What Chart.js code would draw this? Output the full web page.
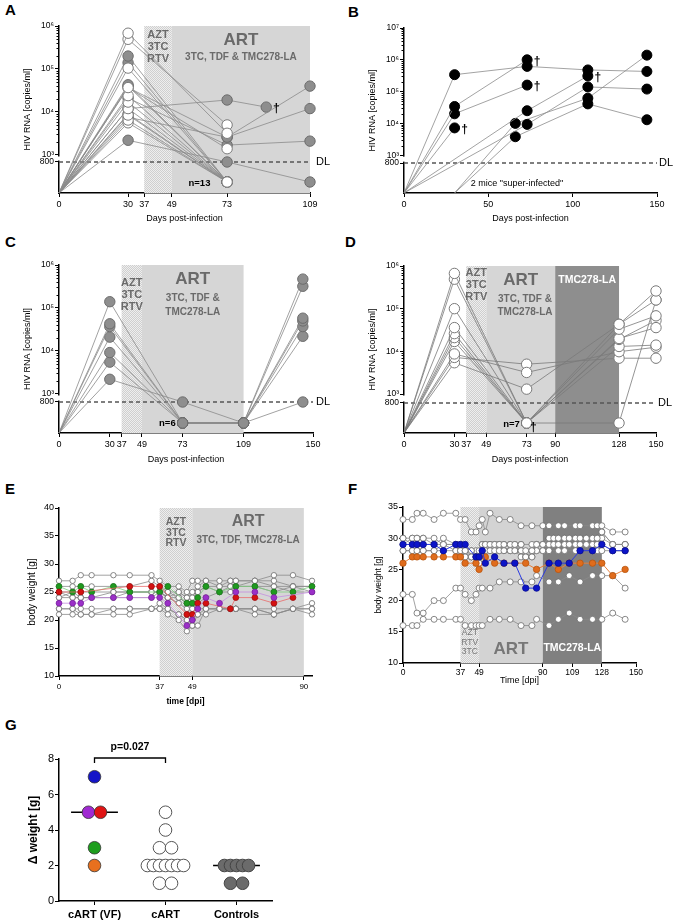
<!DOCTYPE html>
<html>
<head>
<meta charset="utf-8">
<script src="https://cdn.jsdelivr.net/npm/chart.js@4.4.1/dist/chart.umd.min.js"></script>
<style>
  body { margin: 0; background: #fff; }
  #page { position: relative; width: 676px; height: 924px; overflow: hidden; font-family: "Liberation Sans", Arial, sans-serif; }
  canvas { position: absolute; }
  .lbl { position: absolute; font-weight: bold; font-size: 15px; line-height: 18px; }
</style>
</head>
<body>
<div id="page">
  <div class="lbl" style="left:5px;top:1px">A</div>
  <div class="lbl" style="left:348px;top:3px">B</div>
  <div class="lbl" style="left:5px;top:233px">C</div>
  <div class="lbl" style="left:345px;top:233px">D</div>
  <div class="lbl" style="left:5px;top:480px">E</div>
  <div class="lbl" style="left:348px;top:480px">F</div>
  <div class="lbl" style="left:5px;top:716px">G</div>
  <canvas id="cA"></canvas>
  <canvas id="cB"></canvas>
  <canvas id="cC"></canvas>
  <canvas id="cD"></canvas>
  <canvas id="cE"></canvas>
  <canvas id="cF"></canvas>
  <canvas id="cG"></canvas>
</div>
<script>
// ---------- data ----------
// viral load in copies/ml; 'BL' = start of infection, 'UD' = undetectable, 'DL' = at detection limit (800)
const aDays = [0, 30, 73, 90, 109];
const aOpen = [
  ['BL', 6.8e5, 3.2e3, null, null],
  ['BL', 4.9e5, 5.0e3, null, null],
  ['BL', 1.05e5, 'UD', null, null],
  ['BL', 3.7e4, 1.4e3, null, null],
  ['BL', 2.4e4, 'UD', null, null],
  ['BL', 1.7e4, 'UD', null, null],
  ['BL', 1.2e4, 'UD', null, null],
  ['BL', 8.5e3, 'UD', null, null],
  ['BL', 6.5e3, 'UD', null, null],
  ['BL', 5.6e3, 'UD', null, null]
];
const aFilled = [
  ['BL', 2.0e5, 'UD', null, null],
  ['BL', 1.4e5, 'UD', null, null],
  ['BL', 4.3e4, 'UD', null, null],
  ['BL', 4.0e4, 'UD', null, null],
  ['BL', 3.7e4, 2.6e3, null, 4.0e4],
  ['BL', 2.1e4, 1.7e3, null, 2.1e3],
  ['BL', 1.2e4, 1.9e4, 1.3e4, null],
  ['BL', 7.5e3, 2.6e3, null, 1.2e4],
  ['BL', 9.0e3, 'UD', null, null],
  ['BL', 2.2e3, 'DL', null, 'UD']
];
const aDeaths = [[90, 1.3e4]];

const bDays = [0, 30, 66, 73, 109, 144];
const bMice = [
  ['BL', 3.4e5, null, 6.2e5, 4.8e5, 4.3e5],
  ['BL', 3.4e4, null, 1.0e6, null, null],
  ['BL', 2.0e4, null, 1.6e5, null, null],
  ['BL', 7.2e3, null, null, null, null],
  ['BL', null, null, 2.5e4, 3.1e5, null],
  ['BL', null, null, 9.3e3, 1.4e5, 1.2e5],
  [null, 'BL', 1.0e4, null, 6.2e4, 1.4e6],
  [null, 'BL', 3.8e3, null, 4.1e4, 1.3e4]
];
const bDeaths = [[30, 7.2e3], [73, 1.0e6], [73, 1.6e5], [109, 3.1e5]];

const cDays = [0, 30, 73, 109, 144];
const cMice = [
  ['BL', 1.4e5, 'UD', 'UD', 4.7e5],
  ['BL', 4.3e4, 'UD', 'UD', 3.2e5],
  ['BL', 3.7e4, 'UD', 'UD', 5.8e4],
  ['BL', 2.1e4, 'UD', 'UD', 5.0e4],
  ['BL', 9.2e3, 'UD', 'UD', 3.7e4],
  ['BL', 5.5e3, 'UD', 'UD', 2.2e4],
  ['BL', 2.2e3, 'DL', 'UD', 'DL']
];

const dDays = [0, 30, 73, 128, 150];
const dMice = [
  ['BL', 6.7e5, 'UD', 4.3e4, 2.6e5],
  ['BL', 4.9e5, 'UD', 3.3e4, 6.8e4],
  ['BL', 1.0e5, 'UD', 'UD', 1.6e5],
  ['BL', 3.6e4, 'UD', 2.0e4, 3.6e4],
  ['BL', 2.6e4, 'UD', 1.9e4, 5.3e4],
  ['BL', 2.1e4, 'UD', 1.3e4, 1.4e4],
  ['BL', 1.7e4, 'UD', null, null],
  ['BL', 8.7e3, 3.2e3, 9.8e3, 1.25e4],
  ['BL', 7.2e3, 5.0e3, 6.9e3, 6.9e3],
  ['BL', 5.4e3, 1.3e3, 4.3e4, 1.6e5]
];

// body weight [g]
const eDays = [0, 5, 8, 12, 20, 26, 34, 37, 40, 44, 47, 49, 51, 54, 59, 63, 65, 72, 79, 86, 93];
const eWhite = [
  [27, 27, 28, 28, 28, 28, 28, 27, 26, 26, 25, 27, 27, 27, 27, 27, 27, 27, 28, 28, 27],
  [26, 26, 26, 26, 26, 26, 27, 26, 25, 25, 24, 25, 26, 27, 26, 26, 26, 27, 27, 26, 26],
  [25, 25, 25, 25, 25, 25, 25, 25, 24, 24, 23, 22, 25, 26, 25, 26, 26, 26, 26, 25, 25],
  [24, 24, 24, 24, 24, 24, 24, 25, 24, 23, 22, 20, 22, 22, 22, 22, 22, 22, 22, 22, 22],
  [22, 22, 22, 22, 22, 22, 22, 23, 22, 21, 20, 19, 19, 22, 22, 22, 22, 22, 21, 22, 22],
  [21, 21, 21, 21, 21, 21, 22, 22, 21, 20, 18, 19, 21, 22, 22, 22, 22, 21, 21, 22, 21],
  [22, 22, 21, 21, 22, 22, 22, 22, 22, 21, 20, 20, 21, 21, 22, 22, 22, 22, 21, 22, 23],
  [25, 24, 24, 24, 24, 25, 25, 25, 25, 24, 23, 22, 23, 24, 25, 25, 26, 26, 25, 26, 26],
  [24, 25, 24, 24, 25, 25, 25, 25, 24, 25, 24, 24, 25, 26, 26, 27, 27, 27, 26, 26, 25]
];
const eGreen  = [26, 25, 26, 25, 26, 25, null, 25, 26, null, 23, 23, 24, 26, 25, null, 26, 26, 25, 25, 26];
const eRed    = [25, null, 25, null, null, 26, 26, 26, null, null, 21, 21, 23, 23, null, 22, 24, 24, 23, 24, null];
const ePurple = [23, 23, 23, 24, 24, 24, 24, 24, 23, null, 19, 20, 22, 24, 23, null, 25, 25, 24, null, 25];

const fDays = [0, 6, 9, 13, 20, 26, 34, 37, 40, 44, 47, 49, 51, 53, 56, 59, 62, 65, 69, 72,
               76, 79, 83, 86, 90, 94, 97, 100, 104, 107, 111, 114, 118, 122, 125, 128, 135, 143];
const fWhite = [
  [33, 33, 34, 34, 33, 34, 34, 33, 33, 31, 31, 32, 33, 31, 34, null, 33, null, 33, null, 32, null, 32, null, 32, 32, null, 32, 32, null, 32, 32, null, 32, 32, 32, 31, 31],
  [30, 30, 30, 30, 29, 30, 29, 29, 28, 28, 27, 26, 28, 29, 29, 29, 29, 29, 29, 29, 29, null, 29, 29, 29, 30, 30, 30, 30, 30, 30, 30, 30, 30, 30, 31, 29, 29],
  [29, 30, 30, 30, 30, 29, 29, 28, 28, 27, 27, 28, 29, 29, 29, 29, 29, 29, 29, 29, 28, 28, 28, 29, 29, 29, 29, 29, 29, 29, 29, 29, 29, 29, 29, 30, 29, 29],
  [28, 28, 28, 28, 28, 28, 28, 28, 27, 27, 27, 27, 28, 28, 28, 28, 28, 28, 28, 28, 28, 27, 27, 28, 28, 28, null, 28, 28, null, 28, 28, null, 28, 28, 28, 28, 28],
  [28, 28, 28, 28, 28, 29, 28, 28, 28, 28, 26, 26, 28, 28, 28, 28, 28, 28, 28, 28, 29, 27, 27, 28, 28, 29, 29, 29, 29, 29, 29, 29, 29, 29, 29, 29, 28, 28],
  [21, 21, 18, 18, 20, 20, 22, 22, 21, 20, 21, 22, 22, null, 22, null, 23, null, 23, null, 23, null, 23, 24, null, 23, null, 23, null, 24, null, 23, null, 24, null, 24, 24, 22],
  [16, 16, 16, 17, 17, 17, 17, 17, 16, 16, 16, 16, 16, null, 17, null, 17, null, 17, null, 16, null, 16, 17, null, 16, null, 17, null, 18, null, 17, null, 17, null, 17, 18, 17],
  [30, 29, 29, 29, 29, 29, 29, 28, 27, 27, 28, 27, 29, 29, 29, 29, 29, 28, 28, 28, 27, 27, 28, 29, 29, 30, 30, 30, 30, 30, 30, 30, 30, 30, 30, 31, 29, 29]
];
const fOrange = [26, 27, 27, 27, 27, 27, 27, 27, 26, null, 26, 25, null, 27, null, 26, null, 26, null, 26,
                 null, 26, null, 25, null, 26, null, 25, null, 26, null, 26, null, 26, null, 26, 24, 25];
const fBlue   = [29, 29, 29, 29, 29, 28, 29, 29, 29, null, 27, 27, 28, 26, null, 27, null, 26, null, 26,
                 null, 22, null, 22, null, 26, null, 26, null, 26, null, 28, null, 28, null, 29, 28, 28];

// weight change per group
const gGroups = ['cART (VF)', 'cART', 'Controls'];
const gVF = [7, 5, 5, 3, 2];
const gVFColor = ['#1414c8', '#a02ad2', '#e01414', '#1e9e1e', '#e8701e'];
const gCART = [5, 4, 3, 3, 2, 2, 2, 2, 2, 2, 2, 1, 1];
const gCtrl = [2, 2, 2, 2, 2, 1, 1];

// ---------- helpers ----------
const FONT = '"Liberation Sans", Arial, sans-serif';
Chart.defaults.font.family = FONT;
Chart.defaults.color = '#000';
const SUP = {3: '³', 4: '⁴', 5: '⁵', 6: '⁶', 7: '⁷'};

// positions of the broken log axis (in log10 units)
const SA = {min: 2.116, max: 6, dl: 2.837, ud: 2.372};
const SB = {min: 1.81, max: 7, dl: 2.75, ud: 2.3};
const SC = {min: 2.093, max: 6, dl: 2.814, ud: 2.326};
const SD = {min: 2.086, max: 6, dl: 2.79, ud: 2.32};

function toLog(v, s) {
  if (v === 'BL') return s.min;
  if (v === 'UD') return s.ud;
  if (v === 'DL') return s.dl;
  return Math.log10(v);
}
function vlPoints(days, vals, s) {
  const out = [];
  vals.forEach((v, i) => { if (v != null) out.push({x: days[i], y: toLog(v, s), bl: v === 'BL'}); });
  return out;
}
function vlSet(days, vals, s, fill, stroke, r, line) {
  return {
    data: vlPoints(days, vals, s), showLine: true, clip: false,
    borderColor: line || '#8a8a8a', borderWidth: 0.8,
    pointRadius: c => (c.raw && c.raw.bl) ? 0 : r,
    pointBackgroundColor: fill, pointBorderColor: stroke, pointBorderWidth: 1
  };
}
function wPoints(days, vals) {
  const out = [];
  vals.forEach((v, i) => { if (v != null) out.push({x: days[i], y: v}); });
  return out;
}
function wSet(days, vals, fill, stroke, line, r, lw) {
  return {
    data: wPoints(days, vals), showLine: true, clip: false,
    borderColor: line, borderWidth: lw || 0.8,
    pointRadius: r, pointBackgroundColor: fill, pointBorderColor: stroke, pointBorderWidth: 0.8
  };
}
function swarm(vals, center) {
  const cnt = {}, seen = {};
  vals.forEach(v => cnt[v] = (cnt[v] || 0) + 1);
  return vals.map(v => {
    const n = cnt[v];
    const i = seen[v] = (seen[v] === undefined ? 0 : seen[v] + 1);
    const step = n > 3 ? 0.085 : 0.17;
    return {x: center + (i - (n - 1) / 2) * step, y: v};
  });
}
function median(a) {
  const s = [...a].sort((p, q) => p - q), m = Math.floor(s.length / 2);
  return s.length % 2 ? s[m] : (s[m - 1] + s[m]) / 2;
}

let hatchCache = null;
function hatch(ctx) {
  if (hatchCache) return hatchCache;
  const c = document.createElement('canvas');
  c.width = c.height = 2;
  const g = c.getContext('2d');
  g.fillStyle = '#eeeeee'; g.fillRect(0, 0, 2, 2);
  g.fillStyle = '#cfcfcf'; g.fillRect(0, 0, 1, 1); g.fillRect(1, 1, 1, 1);
  hatchCache = ctx.createPattern(c, 'repeat');
  return hatchCache;
}

// bands, labels, detection limit, axis break, daggers
const decor = {
  id: 'decor',
  beforeDatasetsDraw(chart, _a, o) {
    const {ctx, chartArea: a, scales: {x, y}} = chart;
    ctx.save();
    (o.bands || []).forEach(b => {
      const x0 = x.getPixelForValue(b.from), x1 = x.getPixelForValue(b.to);
      ctx.fillStyle = b.hatch ? hatch(ctx) : b.color;
      ctx.fillRect(x0, a.top, x1 - x0, a.bottom - a.top);
    });
    ctx.textAlign = 'center';
    ctx.textBaseline = 'middle';
    (o.texts || []).forEach(t => {
      ctx.font = t.f + ' ' + FONT;
      ctx.fillStyle = t.c || '#6a6a6a';
      ctx.fillText(t.t, x.getPixelForValue(t.x), a.top + t.py);
    });
    if (o.dl) {
      const yy = y.getPixelForValue(o.dl.y);
      ctx.strokeStyle = '#555';
      ctx.lineWidth = 1.5;
      ctx.setLineDash([4, 3]);
      ctx.beginPath(); ctx.moveTo(a.left, yy); ctx.lineTo(a.right + (o.dl.ext || 0), yy); ctx.stroke();
      ctx.setLineDash([]);
      ctx.fillStyle = '#000';
      ctx.font = '11px ' + FONT;
      ctx.textAlign = 'left';
      ctx.fillText('DL', a.right + o.dl.dx, yy);
    }
    ctx.restore();
  },
  afterDatasetsDraw(chart, _a, o) {
    const {ctx, chartArea: a, scales: {x, y}} = chart;
    ctx.save();
    if (o.brk) {
      const s = o.brk;
      // minor log ticks
      ctx.strokeStyle = '#000'; ctx.lineWidth = 1;
      for (let n = 3; n < s.max; n++) {
        for (let k = 2; k <= 9; k++) {
          const yy = Math.round(y.getPixelForValue(n + Math.log10(k))) + 0.5;
          ctx.beginPath(); ctx.moveTo(a.left - 2.5, yy); ctx.lineTo(a.left, yy); ctx.stroke();
        }
      }
      const y0 = y.getPixelForValue(3) + 1.5, y1 = y.getPixelForValue(s.dl) - 1.5;
      ctx.fillStyle = '#fff';
      ctx.fillRect(a.left - 2, y0, 4, y1 - y0);
    }
    ctx.textBaseline = 'middle';
    (o.notes || []).forEach(n => {
      ctx.font = n.f + ' ' + FONT;
      ctx.fillStyle = '#000';
      ctx.textAlign = n.align || 'center';
      ctx.fillText(n.t, x.getPixelForValue(n.x), a.top + n.py);
    });
    (o.deaths || []).forEach(d => {
      ctx.font = 'bold 12px ' + FONT;
      ctx.fillStyle = '#000';
      ctx.textAlign = 'center';
      ctx.fillText('†', x.getPixelForValue(d[0]) + 10, y.getPixelForValue(toLog(d[1], o.brk)) + 2);
    });
    if (o.bracket) {
      const b = o.bracket;
      const x0 = x.getPixelForValue(b.x0), x1 = x.getPixelForValue(b.x1), yy = y.getPixelForValue(b.y) - 1;
      ctx.strokeStyle = '#000'; ctx.lineWidth = 1.3;
      ctx.beginPath(); ctx.moveTo(x0, yy + 5); ctx.lineTo(x0, yy); ctx.lineTo(x1, yy); ctx.lineTo(x1, yy + 5); ctx.stroke();
      ctx.font = 'bold 10.5px ' + FONT;
      ctx.fillStyle = '#000';
      ctx.textAlign = 'center';
      ctx.fillText(b.text, (x0 + x1) / 2, yy - 11);
    }
    ctx.restore();
  }
};
Chart.register(decor);

function xAxis(min, max, ticks, title, o) {
  o = o || {};
  return {
    type: 'linear', min: min, max: max,
    afterBuildTicks: s => { s.ticks = ticks.map(v => ({value: v})); },
    ticks: {font: {size: o.fs || 9, weight: o.fw || 'normal'}, color: '#000', padding: o.pad === undefined ? 2 : o.pad,
            maxRotation: 0, autoSkip: false, callback: o.cb || (v => String(v))},
    grid: {drawOnChartArea: false, tickLength: 4, color: '#000', lineWidth: 1},
    border: {color: '#000', width: 1.5},
    title: {display: !!title, text: title || '', font: {size: o.tfs || 9, weight: o.tw || 'normal'}, padding: 0, color: '#000'}
  };
}
function yLog(s) {
  const vals = [s.dl];
  for (let n = 3; n <= s.max; n++) vals.push(n);
  return {
    type: 'linear', min: s.min, max: s.max,
    afterBuildTicks: sc => { sc.ticks = vals.map(v => ({value: v})); },
    ticks: {font: {size: 8.5}, color: '#000', padding: 1, autoSkip: false,
            callback: v => Math.abs(v - s.dl) < 1e-6 ? '800' : '10' + SUP[Math.round(v)]},
    grid: {drawOnChartArea: false, tickLength: 4, color: '#000', lineWidth: 1},
    border: {color: '#000', width: 1.5},
    title: {display: true, text: 'HIV RNA [copies/ml]', font: {size: 9}, padding: 0, color: '#000'}
  };
}
function yLin(min, max, step, title, fs, tfs, tw) {
  return {
    type: 'linear', min: min, max: max,
    ticks: {stepSize: step, font: {size: fs}, color: '#000', padding: 1},
    grid: {drawOnChartArea: false, tickLength: 4, color: '#000', lineWidth: 1},
    border: {color: '#000', width: 1.5},
    title: {display: true, text: title, font: {size: tfs, weight: tw || 'normal'}, padding: 0, color: '#000'}
  };
}

// Chart.js paints dataset 0 last, so the sets listed first end up on top
function panel(id, box, area, datasets, scales, decorOpts) {
  const cv = document.getElementById(id);
  cv.width = box.w; cv.height = box.h;
  cv.style.left = box.x + 'px'; cv.style.top = box.y + 'px';
  cv.style.width = box.w + 'px'; cv.style.height = box.h + 'px';
  scales.y.afterFit = s => { s.width = area.l - box.x; };
  scales.x.afterFit = s => { s.height = box.y + box.h - area.b; };
  return new Chart(cv, {
    type: 'scatter',
    data: {datasets: datasets},
    options: {
      responsive: false, maintainAspectRatio: false, animation: false,
      layout: {padding: {left: 0, top: area.t - box.y, right: box.x + box.w - area.r, bottom: 0}},
      plugins: {legend: {display: false}, tooltip: {enabled: false}, decor: decorOpts},
      scales: scales
    }
  });
}

const WHITE = '#ffffff', GRAY = '#8e8e8e', GSTROKE = '#6c6c6c', OSTROKE = '#7a7a7a';
const ART_TEXT = [
  {x: 43, t: 'AZT', f: 'bold 11px'}, {x: 43, t: '3TC', f: 'bold 11px'}, {x: 43, t: 'RTV', f: 'bold 11px'}
];
function azt(py) { return ART_TEXT.map((t, i) => Object.assign({py: py + i * 12}, t)); }

// ---------- A ----------
panel('cA', {x: 22, y: 16, w: 316, h: 208}, {l: 59, t: 26, r: 310, b: 193},
  [...aOpen.map(v => vlSet(aDays, v, SA, WHITE, OSTROKE, 5.2)),
   ...aFilled.map(v => vlSet(aDays, v, SA, GRAY, GSTROKE, 5.2))],
  {x: xAxis(0, 109, [0, 30, 37, 49, 73, 109], 'Days post-infection'), y: yLog(SA)},
  {bands: [{from: 37, to: 49, hatch: true}, {from: 49, to: 109, color: '#d6d6d6'}],
   texts: [...azt(9), {x: 79, py: 14, t: 'ART', f: 'bold 17px'}, {x: 79, py: 31, t: '3TC, TDF & TMC278-LA', f: 'bold 10px'}],
   dl: {y: SA.dl, dx: 6}, brk: SA, deaths: aDeaths,
   notes: [{x: 61, py: 157, t: 'n=13', f: 'bold 9.5px'}]});

// ---------- B ----------
panel('cB', {x: 367, y: 18, w: 309, h: 206}, {l: 404, t: 28, r: 657, b: 193},
  bMice.map(v => vlSet(bDays, v, SB, '#000', '#000', 5, '#8c8c8c')),
  {x: xAxis(0, 150, [0, 50, 100, 150], 'Days post-infection'), y: yLog(SB)},
  {dl: {y: SB.dl, dx: 2}, brk: SB, deaths: bDeaths,
   notes: [{x: 67, py: 156, t: '2 mice "super-infected"', f: '9px'}]});

// ---------- C ----------
panel('cC', {x: 22, y: 255, w: 316, h: 210}, {l: 59, t: 265, r: 313, b: 433},
  cMice.map(v => vlSet(cDays, v, SC, GRAY, GSTROKE, 5.2)),
  {x: xAxis(0, 150, [0, 30, 37, 49, 73, 109, 150], 'Days post-infection'), y: yLog(SC)},
  {bands: [{from: 37, to: 49, hatch: true}, {from: 49, to: 109, color: '#d6d6d6'}],
   texts: [...azt(18), {x: 79, py: 14, t: 'ART', f: 'bold 17px'},
           {x: 79, py: 33, t: '3TC, TDF &', f: 'bold 10px'}, {x: 79, py: 47, t: 'TMC278-LA', f: 'bold 10px'}],
   dl: {y: SC.dl, dx: 3}, brk: SC,
   notes: [{x: 64, py: 158, t: 'n=6', f: 'bold 9.5px'}]});

// ---------- D ----------
panel('cD', {x: 367, y: 256, w: 309, h: 209}, {l: 404, t: 266, r: 656, b: 433},
  dMice.map(v => vlSet(dDays, v, SD, WHITE, OSTROKE, 5.2, '#7a7a7a')),
  {x: xAxis(0, 150, [0, 30, 37, 49, 73, 90, 128, 150], 'Days post-infection'), y: yLog(SD)},
  {bands: [{from: 37, to: 49, hatch: true}, {from: 49, to: 90, color: '#d6d6d6'}, {from: 90, to: 128, color: '#8e8e8e'}],
   texts: [...azt(7), {x: 69.5, py: 14, t: 'ART', f: 'bold 17px'},
           {x: 72, py: 33, t: '3TC, TDF &', f: 'bold 10px'}, {x: 72, py: 46, t: 'TMC278-LA', f: 'bold 10px'},
           {x: 109, py: 14, t: 'TMC278-LA', f: 'bold 10.5px', c: '#ffffff'}],
   dl: {y: SD.dl, dx: 2}, brk: SD,
   notes: [{x: 64, py: 158, t: 'n=7', f: 'bold 9.5px'}, {x: 77, py: 162, t: '†', f: 'bold 12px'}]});

// ---------- E ----------
panel('cE', {x: 26, y: 498, w: 300, h: 209}, {l: 59, t: 508, r: 312, b: 676},
  [wSet(eDays, ePurple, '#9b2fc8', '#7a22a0', '#c58ee0', 2.9),
   wSet(eDays, eRed, '#d41111', '#a00c0c', '#e86a6a', 2.9),
   wSet(eDays, eGreen, '#1f9a1f', '#1a7a1a', '#7fcf7f', 2.9),
   ...eWhite.map(v => wSet(eDays, v, WHITE, '#6a6a6a', '#8a8a8a', 2.7))],
  {x: xAxis(0, 93, [0, 37, 49, 90], 'time [dpi]', {fs: 8, tfs: 8.5, tw: 'bold'}),
   y: yLin(10, 40, 5, 'body weight [g]', 9, 10)},
  {bands: [{from: 37, to: 49, hatch: true}, {from: 49, to: 90, color: '#d6d6d6'}],
   texts: [{x: 43, py: 14, t: 'AZT', f: 'bold 10.5px'}, {x: 43, py: 25, t: '3TC', f: 'bold 10.5px'},
           {x: 43, py: 35, t: 'RTV', f: 'bold 10.5px'},
           {x: 69.5, py: 14, t: 'ART', f: 'bold 16px'}, {x: 69.5, py: 32, t: '3TC, TDF, TMC278-LA', f: 'bold 10px'}]});

// ---------- F ----------
panel('cF', {x: 374, y: 497, w: 290, h: 189}, {l: 403, t: 507, r: 636, b: 663},
  [wSet(fDays, fBlue, '#0c14c8', '#0a0f90', '#2a3ae0', 3.2, 1),
   wSet(fDays, fOrange, '#e06c1c', '#b8560f', '#e8803a', 3.2, 1),
   ...fWhite.map(v => wSet(fDays, v, WHITE, '#6a6a6a', '#8a8a8a', 3))],
  {x: xAxis(0, 150, [0, 37, 49, 90, 109, 128, 150], 'Time [dpi]', {fs: 8.5, tfs: 9, pad: 1}),
   y: yLin(10, 35, 5, 'body weight [g]', 9, 8.5)},
  {bands: [{from: 37, to: 49, hatch: true}, {from: 49, to: 90, color: '#d3d3d3'}, {from: 90, to: 128, color: '#808080'}],
   texts: [{x: 43, py: 126, t: 'AZT', f: '8.5px', c: '#777'}, {x: 43, py: 136, t: 'RTV', f: '8.5px', c: '#777'},
           {x: 43, py: 145, t: '3TC', f: '8.5px', c: '#777'},
           {x: 69.5, py: 142, t: 'ART', f: 'bold 17px', c: '#777'},
           {x: 109, py: 141, t: 'TMC278-LA', f: 'bold 10.5px', c: '#ffffff'}]});

// ---------- G ----------
const gMed = [gVF, gCART, gCtrl].map((vals, i) => ({
  data: [{x: i + 0.17, y: median(vals)}, {x: i + 0.83, y: median(vals)}],
  showLine: true, borderColor: '#000', borderWidth: 1.5, pointRadius: 0, clip: false
}));
panel('cG', {x: 26, y: 733, w: 260, h: 190}, {l: 59, t: 759, r: 272, b: 901},
  [{data: swarm(gVF, 0.5), pointRadius: 6.3, pointBackgroundColor: gVFColor, pointBorderColor: '#333', pointBorderWidth: 0.8, clip: false},
   {data: swarm(gCART, 1.5), pointRadius: 6.3, pointBackgroundColor: '#fff', pointBorderColor: '#555', pointBorderWidth: 1, clip: false},
   {data: swarm(gCtrl, 2.5), pointRadius: 6.3, pointBackgroundColor: '#6b6b6b', pointBorderColor: '#444', pointBorderWidth: 1, clip: false},
   ...gMed],
  {x: xAxis(0, 3, [0.5, 1.5, 2.5], '', {fs: 11, fw: 'bold', pad: 3, cb: v => gGroups[Math.floor(v)]}),
   y: yLin(0, 8, 2, 'Δ weight [g]', 11, 12, 'bold')},
  {bracket: {x0: 0.5, x1: 1.5, y: 8, text: 'p=0.027'}});
</script>
</body>
</html>
